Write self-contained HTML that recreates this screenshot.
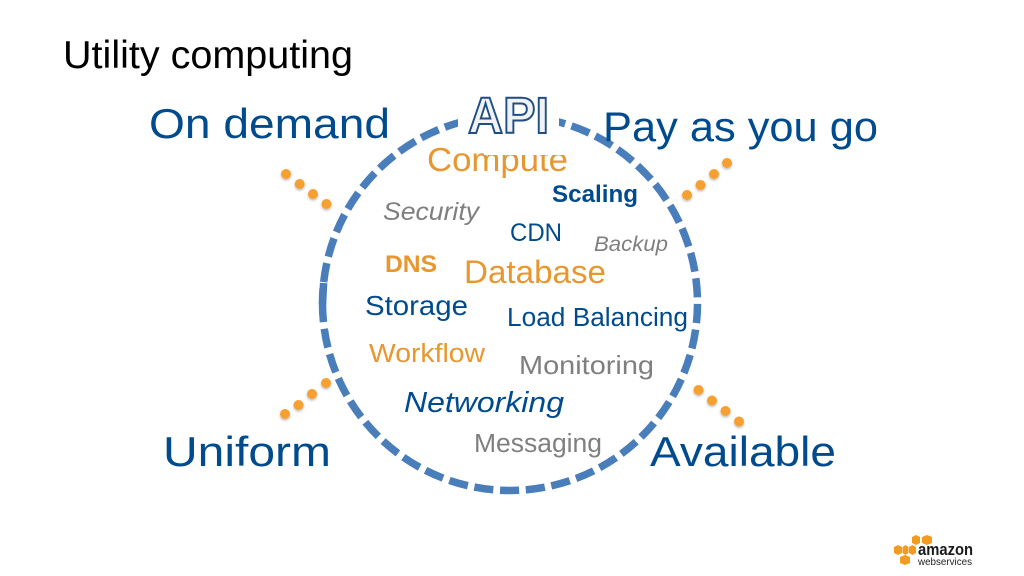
<!DOCTYPE html>
<html>
<head>
<meta charset="utf-8">
<style>
html,body{margin:0;padding:0;background:#fff;width:1024px;height:576px;overflow:hidden}
svg{display:block}
text{font-family:"Liberation Sans",sans-serif}
.n{fill:#004B8D}.o{fill:#E8962E}.g{fill:#7F7F7F}
</style>
</head>
<body>
<svg width="1024" height="576" viewBox="0 0 1024 576" xmlns="http://www.w3.org/2000/svg">
<defs>
<filter id="s" x="-50%" y="-50%" width="200%" height="200%"><feDropShadow dx="0" dy="1.5" stdDeviation="1.2" flood-color="#000" flood-opacity=".28"/></filter>
</defs>
<rect width="1024" height="576" fill="#fff"/>
<text x="63" y="68" font-size="39" fill="#000" textLength="290" lengthAdjust="spacingAndGlyphs">Utility computing</text>

<path d="M322.5 303 A187.5 187.5 0 1 0 697.5 303 A187.5 187.5 0 1 0 322.5 303" fill="none" stroke="#4A7EBB" stroke-width="7.5" stroke-dasharray="19.2 6.65"/>
<line x1="323.6" y1="283" x2="322.5" y2="304" stroke="#4A7EBB" stroke-width="7.5"/>

<text x="427" y="171" font-size="33" class="o" textLength="141" lengthAdjust="spacingAndGlyphs">Compute</text>
<rect x="458" y="92" width="101" height="44" fill="#fff"/>
<rect x="484" y="136" width="86" height="19" fill="#fff"/>

<text x="468" y="133" font-size="51" font-weight="bold" fill="#F0F2F5" stroke="#1F4E85" stroke-width="2" textLength="81" lengthAdjust="spacingAndGlyphs">API</text>

<text x="149" y="138" font-size="42" class="n" textLength="241" lengthAdjust="spacingAndGlyphs">On demand</text>
<text x="603" y="141" font-size="42" class="n" textLength="275" lengthAdjust="spacingAndGlyphs">Pay as you go</text>
<text x="163" y="466" font-size="42" class="n" textLength="168" lengthAdjust="spacingAndGlyphs">Uniform</text>
<text x="650" y="466" font-size="42" class="n" textLength="186" lengthAdjust="spacingAndGlyphs">Available</text>

<text x="552" y="202" font-size="24" font-weight="bold" class="n" textLength="86" lengthAdjust="spacingAndGlyphs">Scaling</text>
<text x="383" y="220" font-size="25" font-style="italic" class="g" textLength="96" lengthAdjust="spacingAndGlyphs">Security</text>
<text x="510" y="241" font-size="25" class="n" textLength="52" lengthAdjust="spacingAndGlyphs">CDN</text>
<text x="594" y="251" font-size="21" font-style="italic" class="g" textLength="74" lengthAdjust="spacingAndGlyphs">Backup</text>
<text x="385" y="272" font-size="24" font-weight="bold" class="o" textLength="52" lengthAdjust="spacingAndGlyphs">DNS</text>
<text x="464" y="283" font-size="32" class="o" textLength="142" lengthAdjust="spacingAndGlyphs">Database</text>
<text x="365" y="315" font-size="28" class="n" textLength="103" lengthAdjust="spacingAndGlyphs">Storage</text>
<text x="507" y="326" font-size="25.5" class="n" textLength="181" lengthAdjust="spacingAndGlyphs">Load Balancing</text>
<text x="369" y="362" font-size="25.5" class="o" textLength="116" lengthAdjust="spacingAndGlyphs">Workflow</text>
<text x="519" y="374" font-size="26" class="g" textLength="135" lengthAdjust="spacingAndGlyphs">Monitoring</text>
<text x="404" y="412" font-size="29" font-style="italic" class="n" textLength="160" lengthAdjust="spacingAndGlyphs">Networking</text>
<text x="474" y="452" font-size="25.5" class="g" textLength="128" lengthAdjust="spacingAndGlyphs">Messaging</text>

<g fill="#F7A030" filter="url(#s)">
<circle cx="286" cy="174" r="5"/><circle cx="299.7" cy="184" r="5"/><circle cx="313" cy="194" r="5"/><circle cx="326.5" cy="204" r="5"/>
<circle cx="687" cy="195" r="5"/><circle cx="700.5" cy="185" r="5"/><circle cx="714" cy="174" r="5"/><circle cx="727" cy="163" r="5"/>
<circle cx="285" cy="414" r="5"/><circle cx="298.5" cy="405" r="5"/><circle cx="312" cy="394" r="5"/><circle cx="326" cy="383" r="5"/>
<circle cx="698.5" cy="390" r="5"/><circle cx="712" cy="400.5" r="5"/><circle cx="725.5" cy="411" r="5"/><circle cx="739" cy="421.5" r="5"/>
</g>

<g fill="#F29B1F">
<path d="M912 537l4-2 4 2v6l-4 2-4-2z"/><path d="M922 537l5-2 5 2v6l-5 2-5-2z"/>
<path d="M894 547l4-2 4 2v6l-4 2-4-2z"/><path d="M902.500 547l3-2 3 2v6l-3 2-3-2z"/><path d="M909 547l3.500-2 3.500 2v6l-3.500 2-3.500-2z"/>
<path d="M900 557l5-2 5 2v6l-5 2-5-2z"/>
</g>
<text x="918" y="555" font-size="17" font-weight="bold" fill="#1a1a1a" textLength="55" lengthAdjust="spacingAndGlyphs">amazon</text>
<text x="918" y="565" font-size="10.500" fill="#222" textLength="54" lengthAdjust="spacingAndGlyphs">webservices</text>
</svg>
</body>
</html>
